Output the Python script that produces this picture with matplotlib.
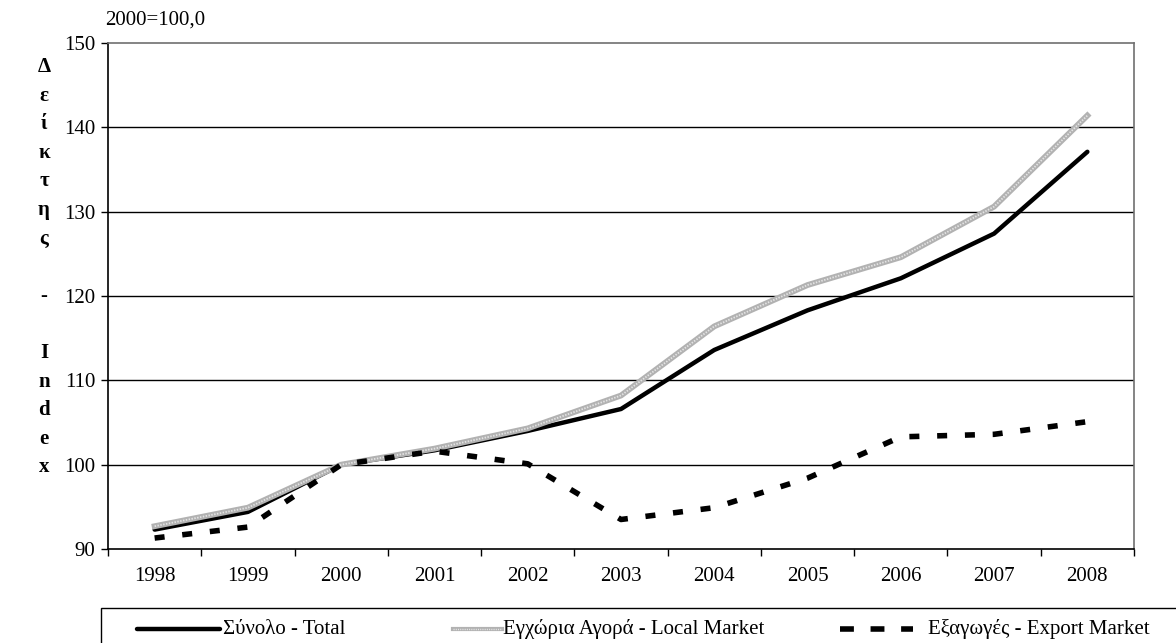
import matplotlib
matplotlib.use('Agg')
import matplotlib.pyplot as plt
from matplotlib.lines import Line2D
from matplotlib.patches import Rectangle

plt.rcParams['font.family'] = ['Liberation Serif', 'DejaVu Serif']

years = ['1998', '1999', '2000', '2001', '2002', '2003', '2004', '2005', '2006', '2007', '2008']
total = [92.3, 94.4, 100.0, 101.7, 104.0, 106.6, 113.6, 118.3, 122.1, 127.4, 137.1]
local = [92.7, 94.9, 100.0, 101.9, 104.3, 108.2, 116.4, 121.3, 124.6, 130.6, 141.4]
export = [91.3, 92.6, 100.0, 101.6, 100.1, 93.5, 94.9, 98.4, 103.3, 103.6, 105.1]
names = ['Σύνολο - Total', 'Εγχώρια Αγορά - Local Market', 'Εξαγωγές - Export Market']

W, H = 1176, 643
FS = 15
fig = plt.figure(figsize=(W / 100, H / 100), dpi=100)
ax = fig.add_axes([108 / W, 1 - 549 / H, 1026 / W, 506 / H])

tot_style = dict(color='black', lw=3.2, solid_capstyle='round')
loc_base = dict(color='#b2b2b2', lw=4.2)
loc_top = dict(color='#e4e4e4', lw=1.3, ls=(0, (0.8, 0.8)))
exp_style = dict(color='black', lw=4, ls=(0, (1.8, 3.2)))

x = range(len(years))
ax.plot(x, total, zorder=3, **tot_style)
ax.plot(x, local, zorder=4, **loc_base)
ax.plot(x, local, zorder=5, **loc_top)
ax.plot(x, export, zorder=6, **exp_style)

ax.set_xlim(-0.5, len(years) - 0.5)
ax.set_ylim(90, 150)
ax.set_yticks(range(90, 151, 10))
ax.set_xticks(list(x))
ax.set_xticklabels(years)
ax.set_xticks([i - 0.5 for i in range(len(years) + 1)], minor=True)
ax.tick_params(axis='x', which='major', length=0, pad=13, labelsize=FS)
ax.tick_params(axis='x', which='minor', length=5, width=1, direction='out')
ax.tick_params(axis='y', length=5, width=1, direction='out', pad=4, labelsize=FS)

for yv in range(100, 150, 10):
    ax.axhline(yv, color='black', lw=1, zorder=1)
ax.spines['left'].set_color('black')
ax.spines['bottom'].set_color('black')
ax.spines['top'].set_color('#707070')
ax.spines['right'].set_color('#707070')
for s in ax.spines.values():
    s.set_linewidth(1.2)

fig.text(105 / W, 1 - 20 / H, '2000=100,0', fontsize=FS, va='center', ha='left')

# vertical stacked axis title
label = 'Δείκτης - Index'
y0, step = 67, 28.6
for i, ch in enumerate(label):
    if ch != ' ':
        fig.text(44 / W, 1 - (y0 + i * step) / H, ch, fontsize=FS, fontweight='bold',
                 ha='center', va='center')

# legend box below the plot
fig.patches.append(Rectangle((101 / W, -0.05), 1.0, 0.05 + 1 - 608 / H,
                             transform=fig.transFigure, fill=False, ec='black', lw=1))
ly = 1 - 629 / H
samples = [(137, 220, 223), (453, 502, 503), (840, 913, 928)]
styles = [[tot_style],
          [dict(loc_base, lw=3), dict(loc_top, lw=1.0)],
          [dict(exp_style, ls=(0, (2.5, 3.0)))]]
for (x1, x2, tx), st, name in zip(samples, styles, names):
    for s in st:
        fig.add_artist(Line2D([x1 / W, x2 / W], [ly, ly], transform=fig.transFigure, **s))
    fig.text(tx / W, ly, name, fontsize=FS, va='center', ha='left')

fig.savefig('out.png', dpi=100)
